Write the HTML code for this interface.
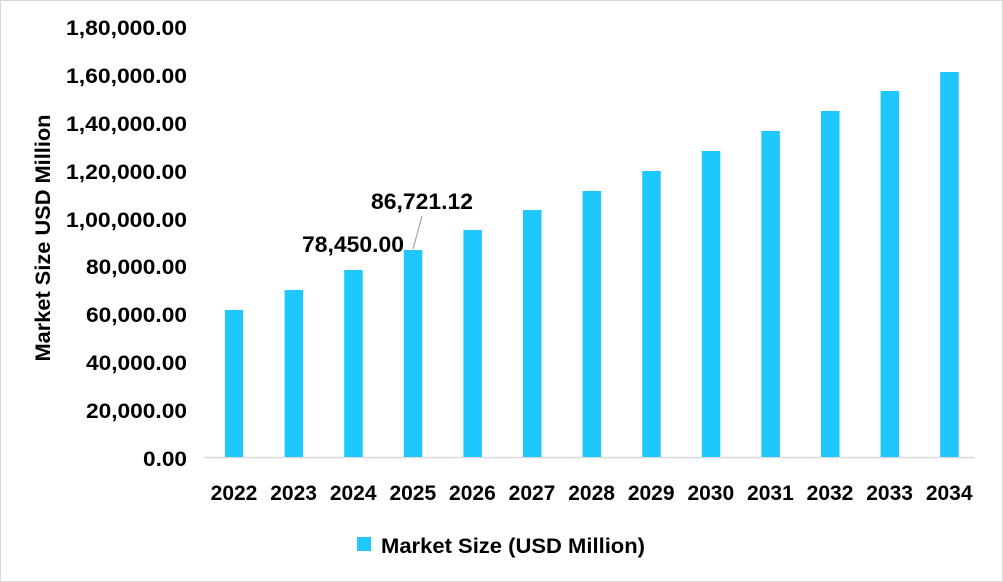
<!DOCTYPE html>
<html><head><style>
body{margin:0;background:#fff}
svg{display:block;font-family:"Liberation Sans",Arial,sans-serif;font-weight:bold}
</style></head><body>
<svg width="1003" height="582" viewBox="0 0 1003 582">
<rect x="0.5" y="0.5" width="1002" height="581" fill="#fff" stroke="#d9d9d9"/>
<g font-size="21" fill="#000" text-anchor="end" lengthAdjust="spacingAndGlyphs">
<text x="187" y="466" textLength="44" lengthAdjust="spacingAndGlyphs">0.00</text>
<text x="187" y="418" textLength="101" lengthAdjust="spacingAndGlyphs">20,000.00</text>
<text x="187" y="370" textLength="101" lengthAdjust="spacingAndGlyphs">40,000.00</text>
<text x="187" y="322" textLength="101" lengthAdjust="spacingAndGlyphs">60,000.00</text>
<text x="187" y="274" textLength="101" lengthAdjust="spacingAndGlyphs">80,000.00</text>
<text x="187" y="227" textLength="121" lengthAdjust="spacingAndGlyphs">1,00,000.00</text>
<text x="187" y="179" textLength="121" lengthAdjust="spacingAndGlyphs">1,20,000.00</text>
<text x="187" y="131" textLength="121" lengthAdjust="spacingAndGlyphs">1,40,000.00</text>
<text x="187" y="83" textLength="121" lengthAdjust="spacingAndGlyphs">1,60,000.00</text>
<text x="187" y="35" textLength="121" lengthAdjust="spacingAndGlyphs">1,80,000.00</text>
</g>
<text transform="translate(50,238) rotate(-90)" font-size="21" text-anchor="middle" textLength="247" lengthAdjust="spacingAndGlyphs">Market Size USD Million</text>
<line x1="204" y1="457.5" x2="975" y2="457.5" stroke="#d9d9d9" stroke-width="1.5"/>
<g fill="#1ec8fc">
<rect x="225" y="310" width="18" height="147"/>
<rect x="284.6" y="290" width="18.5" height="167"/>
<rect x="344.2" y="270" width="18.5" height="187"/>
<rect x="403.8" y="250" width="18.5" height="207"/>
<rect x="463.4" y="230" width="18.5" height="227"/>
<rect x="523" y="210" width="18.5" height="247"/>
<rect x="582.6" y="191" width="18.5" height="266"/>
<rect x="642.2" y="171" width="18.5" height="286"/>
<rect x="701.8" y="151" width="18.5" height="306"/>
<rect x="761.4" y="131" width="18.5" height="326"/>
<rect x="821" y="111" width="18.5" height="346"/>
<rect x="880.6" y="91" width="18.5" height="366"/>
<rect x="940.2" y="72" width="18.5" height="385"/>
</g>
<g font-size="21" text-anchor="middle">
<text x="234" y="500">2022</text><text x="293.6" y="500">2023</text><text x="353.2" y="500">2024</text>
<text x="412.8" y="500">2025</text><text x="472.4" y="500">2026</text><text x="532" y="500">2027</text>
<text x="591.6" y="500">2028</text><text x="651.2" y="500">2029</text><text x="710.8" y="500">2030</text>
<text x="770.4" y="500">2031</text><text x="830" y="500">2032</text><text x="889.6" y="500">2033</text>
<text x="949.2" y="500">2034</text>
</g>
<g font-size="22" font-weight="bold">
<text x="302" y="252" textLength="102" lengthAdjust="spacingAndGlyphs">78,450.00</text>
<text x="371" y="209" textLength="102" lengthAdjust="spacingAndGlyphs">86,721.12</text>
</g>
<line x1="422" y1="216" x2="413" y2="249" stroke="#a6a6a6" stroke-width="1.2"/>
<rect x="357" y="537" width="14" height="14" fill="#1ec8fc"/>
<text x="381" y="553" font-size="21" textLength="264" lengthAdjust="spacingAndGlyphs">Market Size (USD Million)</text>
</svg>
</body></html>
